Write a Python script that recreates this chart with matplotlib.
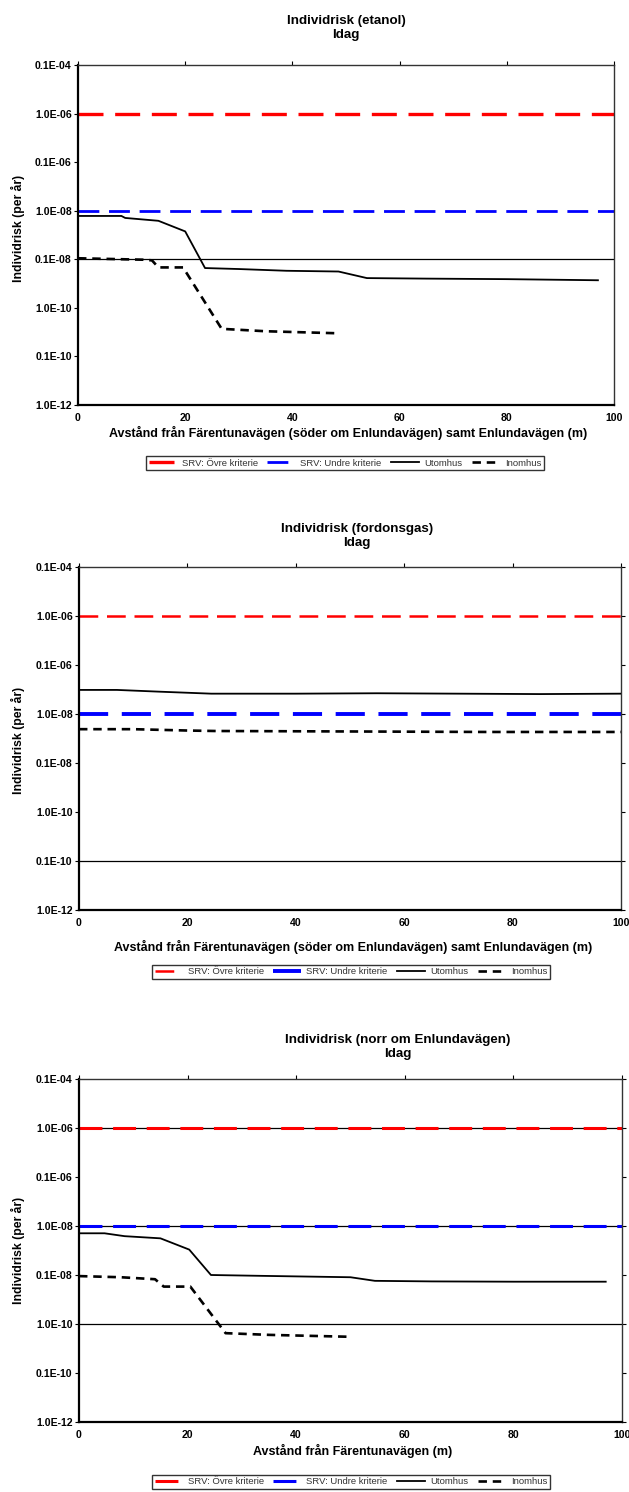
import matplotlib
matplotlib.use("Agg")
import matplotlib.pyplot as plt

plt.rcParams['font.family'] = ['Liberation Sans', 'DejaVu Sans']

W, H = 629, 1492

# y-axis decades, labelled the way the spreadsheet printed them
decades = [1e-12, 1e-11, 1e-10, 1e-9, 1e-8, 1e-7, 1e-6, 1e-5]
decade_labels = ['1.0E-12', '0.1E-10', '1.0E-10', '0.1E-08',
                 '1.0E-08', '0.1E-06', '1.0E-06', '0.1E-04']
x_ticks = [0, 20, 40, 60, 80, 100]

# SRV criteria
crit_x = [0, 100]
ovre = 1e-6
undre = 1e-8

# etanol
etanol_ute_x = [0, 8.1, 8.8, 15, 20, 23.7, 30, 38.9, 48.6, 53.9, 65, 80, 97]
etanol_ute_y = [7.8e-9, 7.8e-9, 7.1e-9, 6.2e-9, 3.75e-9, 6.6e-10, 6.3e-10,
                5.8e-10, 5.6e-10, 4.1e-10, 4.0e-10, 3.9e-10, 3.7e-10]
etanol_inne_x = [0, 12.2, 13.8, 15, 19.6, 26.8, 35, 48.3]
etanol_inne_y = [1.05e-9, 9.8e-10, 9.5e-10, 6.8e-10, 6.8e-10, 3.7e-11, 3.3e-11, 3.0e-11]

# fordonsgas
gas_ute_x = [0, 7, 15, 24.4, 40, 55, 70, 85, 100]
gas_ute_y = [3.1e-8, 3.1e-8, 2.85e-8, 2.6e-8, 2.6e-8, 2.65e-8, 2.6e-8, 2.55e-8, 2.6e-8]
gas_inne_x = [0, 10, 20, 25, 50, 75, 100]
gas_inne_y = [4.9e-9, 4.9e-9, 4.6e-9, 4.5e-9, 4.4e-9, 4.3e-9, 4.3e-9]

# norr om Enlundavägen
norr_ute_x = [0, 4.7, 8.4, 15, 20.3, 24.3, 33.8, 50, 54.5, 65, 80, 97]
norr_ute_y = [7.1e-9, 7.1e-9, 6.2e-9, 5.6e-9, 3.3e-9, 1.0e-9, 9.6e-10,
              9.0e-10, 7.6e-10, 7.4e-10, 7.3e-10, 7.3e-10]
norr_inne_x = [0, 7.7, 14, 15.6, 20.5, 27, 35, 49.4]
norr_inne_y = [9.5e-10, 9.0e-10, 8.2e-10, 5.8e-10, 5.8e-10, 6.5e-11, 6.0e-11, 5.5e-11]

legend_labels = ['SRV: Övre kriterie', 'SRV: Undre kriterie', 'Utomhus', 'Inomhus']
ylabel = 'Individrisk (per år)'
xlabel_long = 'Avstånd från Färentunavägen (söder om Enlundavägen) samt Enlundavägen (m)'
xlabel_short = 'Avstånd från Färentunavägen (m)'

panels = [
    dict(title='Individrisk (etanol)\nIdag', box=(78, 65, 614, 405),
         title_xy=(346, 28), xlabel=xlabel_long, xlabel_xy=(348, 433),
         ylabel_xy=(18, 228), legend_xy=(345, 463),
         ute=(etanol_ute_x, etanol_ute_y), inne=(etanol_inne_x, etanol_inne_y),
         grid=[1e-9], right_ticks=False, red_lw=2.4, blue_lw=2.0),
    dict(title='Individrisk (fordonsgas)\nIdag', box=(79, 567, 621, 910),
         title_xy=(357, 536), xlabel=xlabel_long, xlabel_xy=(353, 947),
         ylabel_xy=(18, 740), legend_xy=(351, 972),
         ute=(gas_ute_x, gas_ute_y), inne=(gas_inne_x, gas_inne_y),
         grid=[1e-11], right_ticks=True, red_lw=1.8, blue_lw=2.8),
    dict(title='Individrisk (norr om Enlundavägen)\nIdag', box=(79, 1079, 622, 1422),
         title_xy=(398, 1047), xlabel=xlabel_short, xlabel_xy=(353, 1451),
         ylabel_xy=(18, 1250), legend_xy=(351, 1482),
         ute=(norr_ute_x, norr_ute_y), inne=(norr_inne_x, norr_inne_y),
         grid=[1e-6, 1e-8, 1e-10], right_ticks=True, red_lw=2.2, blue_lw=2.2),
]

fig = plt.figure(figsize=(W / 100, H / 100), dpi=100)


def fx(px):
    return px / W


def fy(py):
    return 1 - py / H


for p in panels:
    l, t, r, b = p['box']
    ax = fig.add_axes([fx(l), fy(b), (r - l) / W, (b - t) / H])
    ax.set_yscale('log')
    ax.set_xlim(0, 100)
    ax.set_ylim(decades[0], decades[-1])

    for g in p['grid']:
        ax.axhline(g, color='black', lw=0.9, zorder=1)

    red, = ax.plot(crit_x, [ovre, ovre], color='#ff0000', lw=p['red_lw'],
                   dashes=(7.5, 3.5), zorder=2)
    blue, = ax.plot(crit_x, [undre, undre], color='#0000ff', lw=p['blue_lw'],
                    dashes=(7.5, 3.5), zorder=2)
    ute, = ax.plot(*p['ute'], color='black', lw=1.3, zorder=3)
    inne, = ax.plot(*p['inne'], color='black', lw=1.9, dashes=(3.2, 2.2), zorder=3)

    ax.set_xticks(x_ticks)
    ax.set_xticklabels([str(v) for v in x_ticks])
    ax.set_yticks(decades)
    ax.set_yticklabels(decade_labels)
    ax.minorticks_off()
    ax.tick_params(axis='y', which='major', direction='out', length=3, width=0.8,
                   pad=1.5, labelsize=7.6, right=p['right_ticks'])
    ax.tick_params(axis='x', which='major', direction='out', length=3, width=0.8,
                   pad=3, labelsize=7.6, top=True, bottom=False)
    for lab in ax.get_xticklabels() + ax.get_yticklabels():
        lab.set_fontweight('bold')

    for side in ['left', 'bottom']:
        ax.spines[side].set_linewidth(1.6)
    for side in ['top', 'right']:
        ax.spines[side].set_linewidth(1.0)
        ax.spines[side].set_color('#333333')

    fig.text(fx(p['title_xy'][0]), fy(p['title_xy'][1]), p['title'],
             ha='center', va='center', fontsize=9.6, fontweight='bold',
             linespacing=1.15)
    fig.text(fx(p['xlabel_xy'][0]), fy(p['xlabel_xy'][1]), p['xlabel'],
             ha='center', va='center', fontsize=9.0, fontweight='bold')
    fig.text(fx(p['ylabel_xy'][0]), fy(p['ylabel_xy'][1]), ylabel,
             ha='center', va='center', rotation=90, fontsize=8.8, fontweight='bold')

    leg = fig.legend([red, blue, ute, inne], legend_labels, loc='center',
                     bbox_to_anchor=(fx(p['legend_xy'][0]), fy(p['legend_xy'][1])),
                     ncol=4, fontsize=6.8, frameon=True, fancybox=False,
                     handlelength=2.9, handletextpad=0.6, columnspacing=1.0,
                     borderpad=0.3, borderaxespad=0)
    leg.get_frame().set_edgecolor('black')
    leg.get_frame().set_linewidth(1.0)
    for txt in leg.get_texts():
        txt.set_color('#333333')

fig.savefig('out.png', dpi=100)
